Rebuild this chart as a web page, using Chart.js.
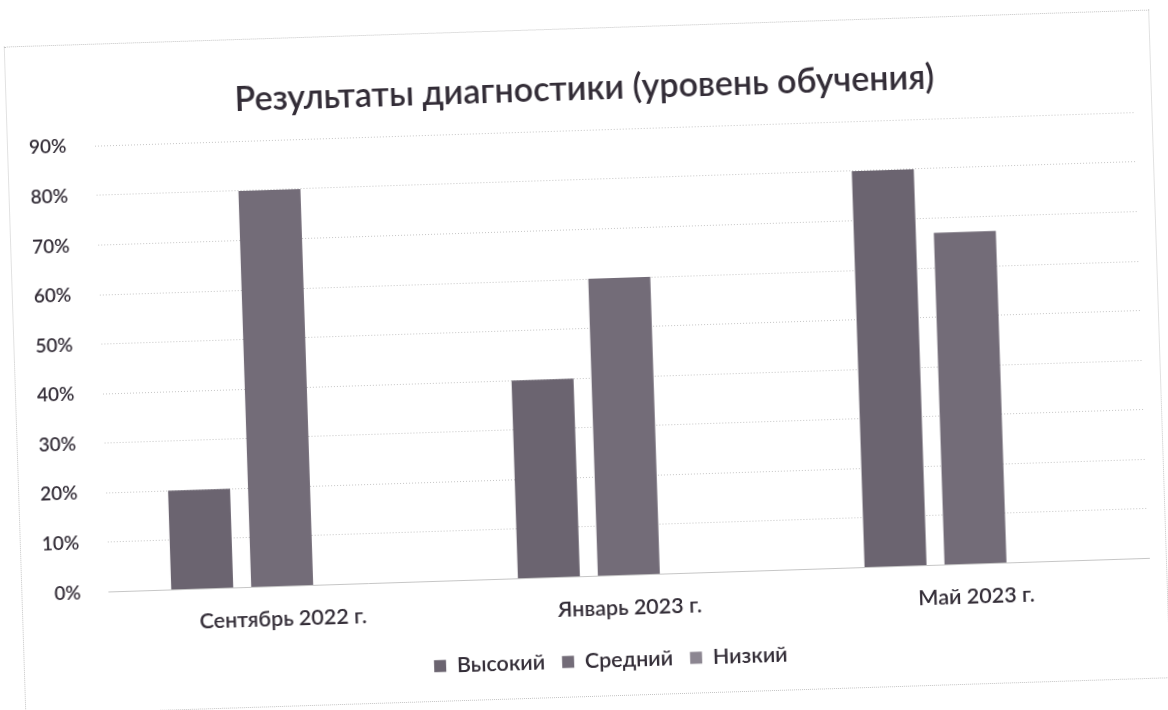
<!DOCTYPE html>
<html lang="ru">
<head>
<meta charset="utf-8">
<title>Результаты диагностики</title>
<script src="https://cdn.jsdelivr.net/npm/chart.js@4/dist/chart.umd.min.js"></script>
<style>
	html, body { margin: 0; padding: 0; background: #fff; overflow: hidden; }
	#sheet {
		position: absolute; left: 0; top: 0; width: 1168px; height: 710px;
		transform: rotate(-1.85deg); transform-origin: 584px 355px;
	}
	#frame {
		position: absolute; left: 14px; top: 28px; width: 1146px; height: 669px;
		border: 1px dotted #c4c4c4; box-sizing: border-box;
	}
	#chart { position: absolute; left: 0; top: 0; }
</style>
</head>
<body>
<div id="sheet">
	<div id="frame"></div>
	<canvas id="chart" width="1168" height="710"></canvas>
</div>
<script>
const TITLE = 'Результаты диагностики (уровень обучения)';
const CATEGORIES = ['Сентябрь 2022 г.', 'Январь 2023 г.', 'Май 2023 г.'];
const SERIES = ['Высокий', 'Средний', 'Низкий'];
const HIGH = [20, 40, 80];
const MIDDLE = [80, 60, 67];
const LOW = [0, 0, 0];
const Y_TICKS = [0, 10, 20, 30, 40, 50, 60, 70, 80, 90];

const COLORS = ['#6b6470', '#736c78', '#8c8691'];
const TEXT = '#332d37';
const FONT = 'Lato, "Open Sans", sans-serif';

const datasets = [HIGH, MIDDLE, LOW].map((values, i) => ({
	label: SERIES[i],
	data: values,
	backgroundColor: COLORS[i],
	borderWidth: 0,
	categoryPercentage: 0.692,
	barPercentage: 0.775,
}));

// title and legend sit a little right of the plot centre in the original
const nudgeBlocks = {
	id: 'nudgeBlocks',
	afterLayout(chart) {
		chart.titleBlock.left += 12;
		chart.titleBlock.right += 12;
		chart.legend.left += 20;
		chart.legend.right += 20;
	},
};

new Chart(document.getElementById('chart'), {
	type: 'bar',
	data: { labels: CATEGORIES, datasets },
	plugins: [nudgeBlocks],
	options: {
		responsive: false,
		animation: false,
		layout: { padding: { left: 20, right: 26, top: 0, bottom: 28 } },
		plugins: {
			title: {
				display: true,
				text: TITLE,
				color: TEXT,
				font: { family: FONT, size: 34, weight: '600' },
				padding: { top: 69, bottom: 20.5 },
			},
			legend: {
				position: 'bottom',
				labels: {
					color: TEXT,
					font: { family: FONT, size: 21.5, weight: '600' },
					boxWidth: 12,
					boxHeight: 12,
					padding: 17,
				},
			},
			tooltip: { enabled: false },
		},
		scales: {
			x: {
				grid: { display: false },
				border: { color: '#c6c6c6', dash: [1, 2] },
				ticks: { color: TEXT, font: { family: FONT, size: 21.5, weight: '600' }, padding: 12 },
				afterFit: (scale) => { scale.height = 57; },
			},
			y: {
				min: 0,
				max: 90,
				afterBuildTicks: (scale) => { scale.ticks = Y_TICKS.map(v => ({ value: v })); },
				grid: { color: '#c6c6c6', drawTicks: false },
				border: { display: false, dash: [1, 2] },
				ticks: {
					color: TEXT,
					font: { family: FONT, size: 19, weight: '600' },
					padding: 28,
					callback: (v) => v + '%',
				},
				afterFit: (scale) => { scale.width = 81.5; },
			},
		},
	},
});
</script>
</body>
</html>
